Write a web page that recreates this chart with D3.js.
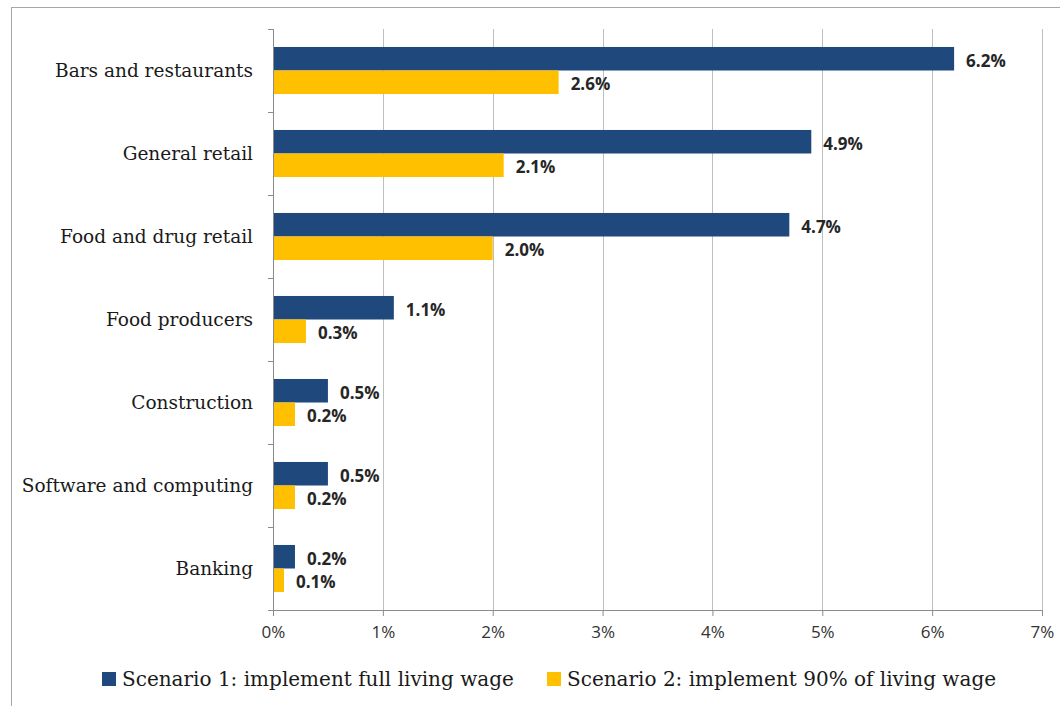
<!DOCTYPE html>
<html>
<head>
<meta charset="utf-8">
<script src="https://cdn.jsdelivr.net/npm/d3@7"></script>
<style>
  body { margin: 0; background: #fff; }
</style>
</head>
<body>
<div id="chart"></div>
<script>
const categories = ["Bars and restaurants", "General retail", "Food and drug retail", "Food producers", "Construction", "Software and computing", "Banking"];
const scenario1 = [6.2, 4.9, 4.7, 1.1, 0.5, 0.5, 0.2];
const scenario2 = [2.6, 2.1, 2.0, 0.3, 0.2, 0.2, 0.1];
const seriesNames = ["Scenario 1: implement full living wage", "Scenario 2: implement 90% of living wage"];
const xTicks = [0, 1, 2, 3, 4, 5, 6, 7];

const colors = ["#1f497d", "#ffc000"];
const W = 1060, H = 706;
const margin = { top: 29, right: 18, bottom: 96, left: 273 };
const width = W - margin.left - margin.right,
      height = H - margin.top - margin.bottom;
const serif = "'DejaVu Serif', serif";

const svg = d3.select("#chart").append("svg").attr("width", W).attr("height", H);

// outer frame (right and bottom edges run off the picture)
svg.append("rect").attr("x", 11.5).attr("y", 7.5).attr("width", 1100).attr("height", 800)
    .attr("fill", "none").attr("stroke", "#a6a6a6").attr("stroke-width", 1);

const g = svg.append("g").attr("transform", "translate(" + margin.left + "," + margin.top + ")");

const x = d3.scaleLinear().domain([0, 7]).range([0, width]);
const y = d3.scaleBand().domain(categories).range([0, height]).paddingInner(0.433).paddingOuter(0.2165);
const sub = d3.scaleBand().domain([0, 1]).range([0, y.bandwidth()]);

// gridlines
g.selectAll(".grid").data(xTicks.slice(1)).enter().append("line")
    .attr("x1", d => Math.round(x(d)) + 0.5).attr("x2", d => Math.round(x(d)) + 0.5)
    .attr("y1", 0).attr("y2", height)
    .attr("stroke", "#bfbfbf").attr("stroke-width", 1);

// bars
const series = [scenario1, scenario2];
series.forEach((vals, si) => {
    g.selectAll(".bar" + si).data(categories).enter().append("rect")
        .attr("x", x(0))
        .attr("y", d => y(d) + sub(si))
        .attr("width", (d, i) => x(vals[i]) - x(0))
        .attr("height", sub.bandwidth())
        .attr("fill", colors[si]);

    g.selectAll(".lab" + si).data(categories).enter().append("text")
        .attr("x", (d, i) => x(vals[i]) + 12)
        .attr("y", d => y(d) + sub(si) + sub.bandwidth() / 2 + 2)
        .attr("dy", "0.35em")
        .style("font-family", "'Open Sans', sans-serif")
        .style("font-weight", "bold")
        .style("font-size", "17px")
        .attr("fill", "#262626")
        .text((d, i) => vals[i].toFixed(1) + "%");
});

// x axis
const xAxis = g.append("g").attr("transform", "translate(0," + height + ")")
    .call(d3.axisBottom(x).tickValues(xTicks).tickFormat(d => d + "%").tickSize(6).tickPadding(10));
xAxis.select(".domain").attr("stroke", "#8c8c8c");
xAxis.selectAll(".tick line").attr("stroke", "#8c8c8c");
xAxis.selectAll("text").style("font-family", "'Open Sans', sans-serif").style("font-size", "17px").attr("fill", "#333");

// y axis
const yTickPos = d3.range(categories.length + 1).map(i => i * height / categories.length);
g.append("line").attr("x1", 0.5).attr("x2", 0.5).attr("y1", 0).attr("y2", height).attr("stroke", "#8c8c8c");
g.selectAll(".ytick").data(yTickPos).enter().append("line")
    .attr("x1", -5).attr("x2", 0).attr("y1", d => Math.round(d) + 0.5).attr("y2", d => Math.round(d) + 0.5)
    .attr("stroke", "#8c8c8c");
g.selectAll(".ylab").data(categories).enter().append("text")
    .attr("x", -20)
    .attr("y", d => y(d) + y.bandwidth() / 2)
    .attr("dy", "0.35em")
    .attr("text-anchor", "end")
    .style("font-family", serif)
    .style("font-size", "18.5px")
    .attr("fill", "#1a1a1a")
    .text(d => d);

// legend
const legendX = [102, 547];
seriesNames.forEach((name, i) => {
    const lg = svg.append("g").attr("transform", "translate(" + legendX[i] + ",672)");
    lg.append("rect").attr("width", 14).attr("height", 14).attr("fill", colors[i]);
    lg.append("text").attr("x", 20).attr("y", 7).attr("dy", "0.35em")
        .style("font-family", serif)
        .style("font-size", "20px")
        .attr("fill", "#1a1a1a")
        .text(name);
});
</script>
</body>
</html>
